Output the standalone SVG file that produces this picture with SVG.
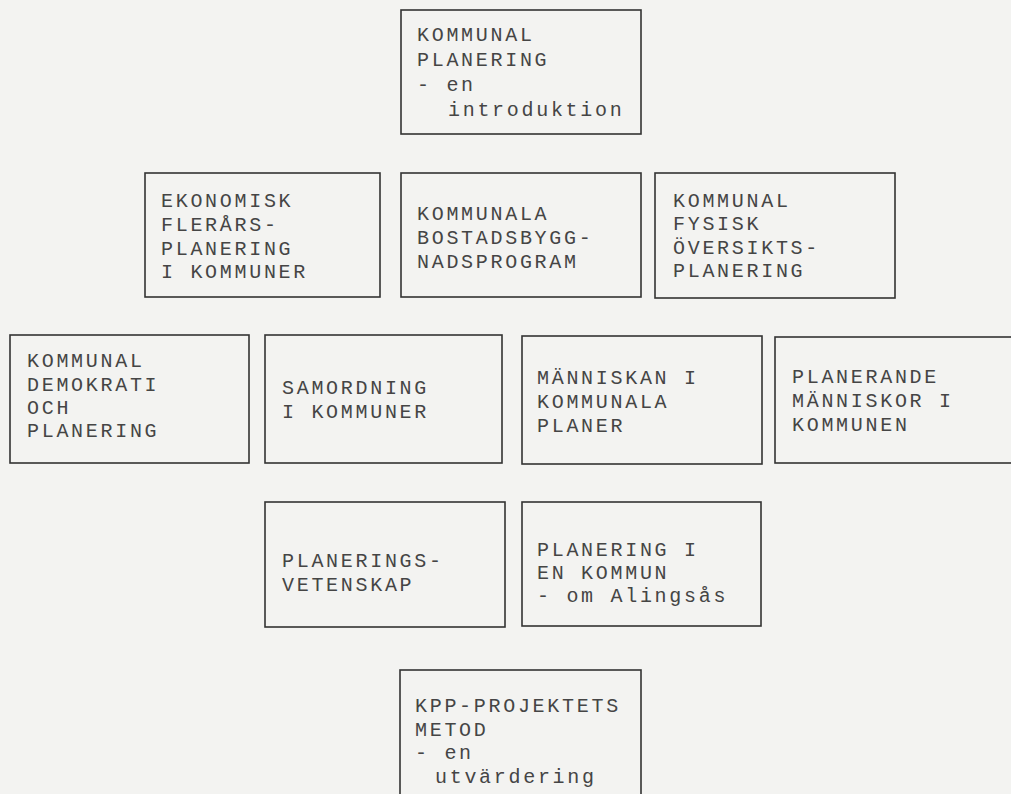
<svg xmlns="http://www.w3.org/2000/svg" width="1011" height="794" viewBox="0 0 1011 794">
<style>
.box{fill:none;stroke:#333;stroke-width:1.6}
.t{font-family:"Liberation Mono","DejaVu Sans Mono",monospace;font-size:20px;letter-spacing:2.7px;fill:#454545}
</style>
<rect x="0" y="0" width="1011" height="794" fill="#f3f3f1"/>
<g id="connectors"/>
<g id="n-intro">
<rect class="box" x="401" y="10" width="240" height="124"/>
<text class="t" x="417" y="41">KOMMUNAL</text>
<text class="t" x="417" y="66">PLANERING</text>
<text class="t" x="417" y="91">- en</text>
<text class="t" x="448" y="116">introduktion</text>
</g>
<g id="n-ekonomisk">
<rect class="box" x="145" y="173" width="235" height="124"/>
<text class="t" x="161" y="207">EKONOMISK</text>
<text class="t" x="161" y="231">FLERÅRS-</text>
<text class="t" x="161" y="255">PLANERING</text>
<text class="t" x="161" y="278">I KOMMUNER</text>
</g>
<g id="n-bostad">
<rect class="box" x="401" y="173" width="240" height="124"/>
<text class="t" x="417" y="220">KOMMUNALA</text>
<text class="t" x="417" y="244">BOSTADSBYGG-</text>
<text class="t" x="417" y="268">NADSPROGRAM</text>
</g>
<g id="n-fysisk">
<rect class="box" x="655" y="173" width="240" height="125"/>
<text class="t" x="673" y="207">KOMMUNAL</text>
<text class="t" x="673" y="230">FYSISK</text>
<text class="t" x="673" y="254">ÖVERSIKTS-</text>
<text class="t" x="673" y="277">PLANERING</text>
</g>
<g id="n-demokrati">
<rect class="box" x="10" y="335" width="239" height="128"/>
<text class="t" x="27" y="367">KOMMUNAL</text>
<text class="t" x="27" y="391">DEMOKRATI</text>
<text class="t" x="27" y="414">OCH</text>
<text class="t" x="27" y="437">PLANERING</text>
</g>
<g id="n-samordning">
<rect class="box" x="265" y="335" width="237" height="128"/>
<text class="t" x="282" y="394">SAMORDNING</text>
<text class="t" x="282" y="418">I KOMMUNER</text>
</g>
<g id="n-manniskan">
<rect class="box" x="522" y="336" width="240" height="128"/>
<text class="t" x="537" y="384">MÄNNISKAN I</text>
<text class="t" x="537" y="408">KOMMUNALA</text>
<text class="t" x="537" y="432">PLANER</text>
</g>
<g id="n-planerande">
<rect class="box" x="775" y="337" width="245" height="126"/>
<text class="t" x="792" y="383">PLANERANDE</text>
<text class="t" x="792" y="407">MÄNNISKOR I</text>
<text class="t" x="792" y="431">KOMMUNEN</text>
</g>
<g id="n-vetenskap">
<rect class="box" x="265" y="502" width="240" height="125"/>
<text class="t" x="282" y="567">PLANERINGS-</text>
<text class="t" x="282" y="591">VETENSKAP</text>
</g>
<g id="n-alingsas">
<rect class="box" x="522" y="502" width="239" height="124"/>
<text class="t" x="537" y="556">PLANERING I</text>
<text class="t" x="537" y="579">EN KOMMUN</text>
<text class="t" x="537" y="602">- om Alingsås</text>
</g>
<g id="n-kpp">
<rect class="box" x="400" y="670" width="241" height="140"/>
<text class="t" x="415" y="712">KPP-PROJEKTETS</text>
<text class="t" x="415" y="736">METOD</text>
<text class="t" x="415" y="759">- en</text>
<text class="t" x="435" y="783">utvärdering</text>
</g>
</svg>
